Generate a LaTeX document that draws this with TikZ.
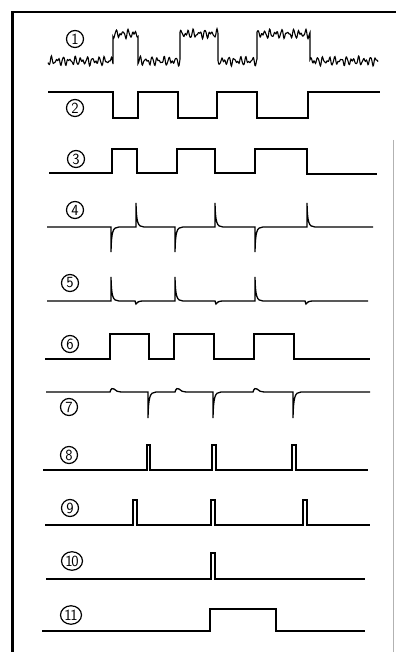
\documentclass[tikz,border=0pt]{standalone}
\usetikzlibrary{shapes.geometric}
\begin{document}
\begin{tikzpicture}[x=1pt,y=-1pt,
  wave/.style={line width=1.3pt, line join=miter, black},
  lbl/.style={draw, circle, line width=1.2pt, inner sep=0pt, minimum size=17pt,
    font=\sffamily\fontsize{15.5}{15.5}\selectfont},
  lblw/.style={draw, ellipse, line width=1.2pt, inner sep=0pt, minimum width=21pt,
    minimum height=18.5pt, font=\sffamily\fontsize{15.5}{15.5}\selectfont},
  frame/.style={line width=2.6pt, black},
  declare function={nz(\t)=2.6*sin(61*mod(\t,5.90164))+1.8*sin(89*mod(\t,4.04494)+30)+0.9*sin(137*mod(\t,2.62774)+70);}]
\useasboundingbox (0,0) rectangle (396,652);
% frame
\draw[frame] (12.5,652) -- (12.5,12) -- (396,12);
\draw[gray!60, line width=0.8pt] (393.5,140) -- (393.5,652);
% labels
\node[lbl] (l1) at (75,39) {\makebox[0pt]{1}};
\node[lbl] (l2) at (75,108) {\makebox[0pt]{2}};
\node[lbl] (l3) at (76,159) {\makebox[0pt]{3}};
\node[lbl] (l4) at (75,210) {\makebox[0pt]{4}};
\node[lbl] (l5) at (70,283) {\makebox[0pt]{5}};
\node[lbl] (l6) at (70,344) {\makebox[0pt]{6}};
\node[lbl] (l7) at (69,407) {\makebox[0pt]{7}};
\node[lbl] (l8) at (69,455) {\makebox[0pt]{8}};
\node[lbl] (l9) at (70,508) {\makebox[0pt]{9}};
\node[lblw] (l10) at (72,561) {\makebox[0pt]{1\kern-1.5pt0}};
\node[lblw] (l11) at (71,615) {\makebox[0pt]{1\kern-1.5pt1}};
% trace 1 (noisy)
\draw[wave, line width=1.1pt]
  plot[domain=48:113, samples=131] (\x,{61+nz(\x)})
  -- plot[domain=113:138, samples=51] (\x,{34+nz(\x)})
  -- plot[domain=138:180, samples=85] (\x,{61+nz(\x)})
  -- plot[domain=180:218, samples=77] (\x,{34+nz(\x)})
  -- plot[domain=218:257, samples=79] (\x,{61+nz(\x)})
  -- plot[domain=257:310, samples=107] (\x,{34+nz(\x)})
  -- plot[domain=310:378, samples=137] (\x,{61+nz(\x)});
% trace 2
\draw[wave] (48,92) -- (113,92) -- (113,118) -- (138,118) -- (138,92) -- (178,92)
  -- (178,118) -- (217,118) -- (217,92) -- (257,92) -- (257,118) -- (308,118)
  -- (308,92) -- (380,92);
% trace 3
\draw[wave] (49,173) -- (112,173) -- (112,149) -- (137,149) -- (137,173) -- (177,173)
  -- (177,149) -- (215,149) -- (215,173) -- (255,173) -- (255,149) -- (307,149)
  -- (307,174) -- (377,174);
% trace 4
\draw[wave] (47,227) -- (111,227) -- (111,252) .. controls (111.5,232) and (112.5,227) .. (119,227)
  -- (136,227) -- (136,203) .. controls (136.5,222) and (137.5,227) .. (144,227)
  -- (175,227) -- (175,252) .. controls (175.5,232) and (176.5,227) .. (183,227)
  -- (215,227) -- (215,203) .. controls (215.5,222) and (216.5,227) .. (223,227)
  -- (255,227) -- (255,252) .. controls (255.5,232) and (256.5,227) .. (263,227)
  -- (307,227) -- (307,203) .. controls (307.5,222) and (308.5,227) .. (315,227)
  -- (373,227);
% trace 5
\draw[wave] (47,301) -- (111,301) -- (111,277) .. controls (111.5,296) and (112.5,301) .. (119,301)
  -- (135,301) -- (136,304) .. controls (137,302) and (139,301) .. (143,301)
  -- (175,301) -- (175,277) .. controls (175.5,296) and (176.5,301) .. (183,301)
  -- (215,301) -- (216,304) .. controls (217,302) and (219,301) .. (223,301)
  -- (255,301) -- (255,277) .. controls (255.5,296) and (256.5,301) .. (263,301)
  -- (305,301) -- (306,304) .. controls (307,302) and (309,301) .. (313,301)
  -- (368,301);
% trace 6
\draw[wave] (45,359) -- (110,359) -- (110,334) -- (149,334) -- (149,359) -- (174,359)
  -- (174,334) -- (214,334) -- (214,359) -- (254,359) -- (254,334) -- (294,334)
  -- (294,359) -- (370,359);
% trace 7
\draw[wave] (46,392) -- (110,392) .. controls (111,388) and (113,388) .. (114,389)
  .. controls (116,391) and (118,392) .. (121,392)
  -- (148,392) -- (148,418) .. controls (148.5,398) and (149.5,392) .. (156,392)
  -- (175,392) .. controls (176,388) and (178,388) .. (179,389)
  .. controls (181,391) and (183,392) .. (186,392)
  -- (213,392) -- (213,418) .. controls (213.5,398) and (214.5,392) .. (221,392)
  -- (253,392) .. controls (254,388) and (256,388) .. (257,389)
  .. controls (259,391) and (261,392) .. (264,392)
  -- (293,392) -- (293,418) .. controls (293.5,398) and (294.5,392) .. (301,392)
  -- (370,392);
% trace 8
\draw[wave] (43,470) -- (147,470) -- (147,445) -- (150,445) -- (150,470) -- (212,470)
  -- (212,445) -- (216,445) -- (216,470) -- (292,470) -- (292,445) -- (296,445)
  -- (296,470) -- (368,470);
% trace 9
\draw[wave] (45,525) -- (133,525) -- (133,500) -- (137,500) -- (137,525) -- (211,525)
  -- (211,500) -- (215,500) -- (215,525) -- (303,525) -- (303,500) -- (307,500)
  -- (307,525) -- (370,525);
% trace 10
\draw[wave] (46,579) -- (211,579) -- (211,553) -- (215,553) -- (215,579) -- (365,579);
% trace 11
\draw[wave] (42,631) -- (210,631) -- (210,609) -- (276,609) -- (276,631) -- (365,631);
\end{tikzpicture}
\end{document}
